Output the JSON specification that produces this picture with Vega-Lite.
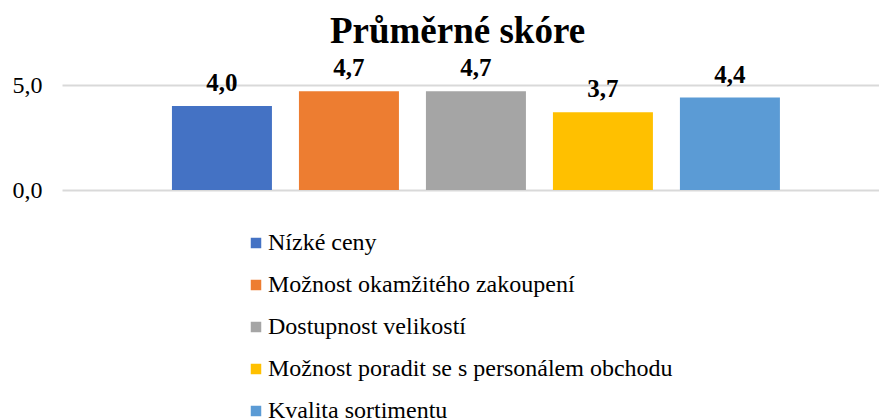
{
  "$schema": "https://vega.github.io/schema/vega-lite/v6.json",
  "width": 817,
  "height": 105,
  "autosize": {"type": "none"},
  "padding": {"left": 62, "top": 85, "right": 0, "bottom": 229},
  "background": "white",
  "title": {
    "text": "Průměrné skóre",
    "font": "Liberation Serif",
    "fontSize": 37,
    "fontWeight": "bold",
    "color": "#000000",
    "anchor": "middle",
    "baseline": "alphabetic",
    "offset": -24,
    "dx": -13
  },
  "data": {
    "values": [
      {"kategorie": "Nízké ceny", "skore": 4.0},
      {"kategorie": "Možnost okamžitého zakoupení", "skore": 4.7},
      {"kategorie": "Dostupnost velikostí", "skore": 4.7},
      {"kategorie": "Možnost poradit se s personálem obchodu", "skore": 3.7},
      {"kategorie": "Kvalita sortimentu", "skore": 4.4}
    ]
  },
  "encoding": {
    "x": {
      "field": "kategorie",
      "type": "nominal",
      "sort": null,
      "axis": null,
      "scale": {"paddingInner": 0.2126, "paddingOuter": 0.823, "align": 0.526}
    },
    "y": {
      "field": "skore",
      "type": "quantitative",
      "scale": {"domain": [0, 5], "nice": false},
      "axis": {
        "values": [0, 5],
        "format": ".1f",
        "title": null,
        "domain": false,
        "ticks": false,
        "labelFont": "Liberation Serif",
        "labelFontSize": 24,
        "labelColor": "#000000",
        "labelPadding": 20,
        "gridColor": "#d9d9d9",
        "gridWidth": 2
      }
    }
  },
  "layer": [
    {
      "mark": {"type": "bar"},
      "encoding": {
        "color": {
          "field": "kategorie",
          "type": "nominal",
          "scale": {
            "domain": ["Nízké ceny", "Možnost okamžitého zakoupení", "Dostupnost velikostí", "Možnost poradit se s personálem obchodu", "Kvalita sortimentu"],
            "range": ["#4472C4", "#ED7D31", "#A5A5A5", "#FFC000", "#5B9BD5"]
          },
          "legend": {
            "title": null,
            "orient": "none",
            "legendX": 182,
            "legendY": 146,
            "direction": "vertical",
            "symbolType": "square",
            "symbolSize": 110,
            "symbolStrokeWidth": 0,
            "symbolOpacity": 1,
            "labelFont": "Liberation Serif",
            "labelFontSize": 24,
            "labelColor": "#000000",
            "labelOffset": 0,
            "rowPadding": 18,
            "labelLimit": 600
          }
        }
      }
    },
    {
      "mark": {
        "type": "text",
        "font": "Liberation Serif",
        "fontSize": 25,
        "fontWeight": "bold",
        "color": "#000000",
        "baseline": "alphabetic",
        "dy": -15
      },
      "encoding": {
        "text": {"field": "skore", "type": "quantitative", "format": ".1f"}
      }
    }
  ],
  "config": {
    "view": {"stroke": null},
    "font": "Liberation Serif",
    "locale": {
      "number": {"decimal": ",", "thousands": " ", "grouping": [3], "currency": ["", " Kč"]}
    }
  }
}
